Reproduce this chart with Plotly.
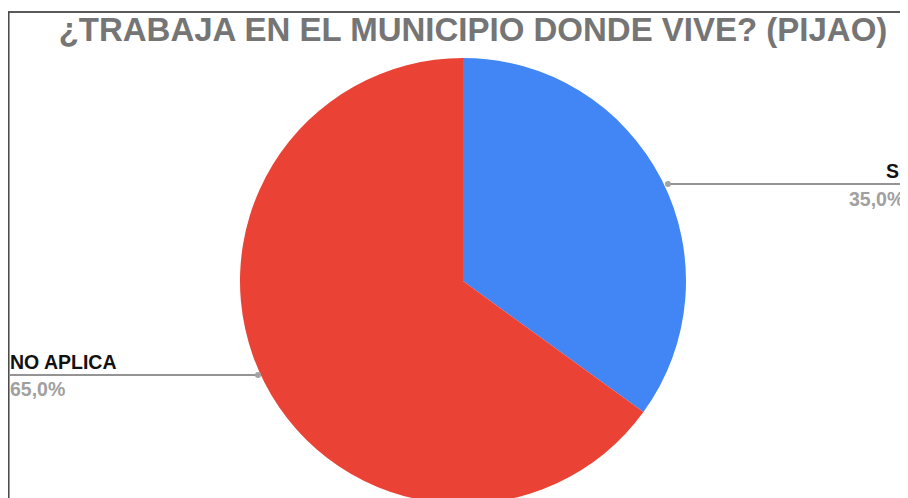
import plotly.graph_objects as go

# data
labels = ['SI', 'NO APLICA']
values = [35.0, 65.0]
colors = ['#4285F4', '#EA4335']

W, H = 900, 498
OFF = 8  # the page body margin shifts the figure by 8px


def px_x(x):
    return (x - OFF) / W


def px_y(y):
    return 1 - (y - OFF) / H


# pie centre and radius in screen pixels
cx, cy, r = 463, 281, 223

fig = go.Figure()
fig.add_trace(go.Pie(
    labels=labels,
    values=values,
    sort=False,
    direction='clockwise',
    rotation=0,
    marker=dict(colors=colors, line=dict(width=0)),
    textinfo='none',
    hoverinfo='label+percent',
    showlegend=False,
    domain=dict(x=[px_x(cx - 300), px_x(cx + 300)], y=[px_y(cy + r), px_y(cy - r)]),
))

pct = [('%.1f%%' % (v / sum(values) * 100)).replace('.', ',') for v in values]

# leader lines and dots: (dot x, dot y, line end x)
leaders = [(668, 184, 910), (258, 375, 10)]
for dx, dy, ex in leaders:
    fig.add_shape(type='line', xref='paper', yref='paper',
                  x0=px_x(dx), y0=px_y(dy), x1=px_x(ex), y1=px_y(dy),
                  line=dict(color='#707070', width=1.4))
    fig.add_shape(type='circle', xref='paper', yref='paper',
                  x0=px_x(dx - 3), y0=px_y(dy - 3), x1=px_x(dx + 3), y1=px_y(dy + 3),
                  fillcolor='#a3a3a3', line=dict(width=0))

lab_font = dict(family='Liberation Sans, Arial', size=19.5, color='#111111')
pct_font = dict(family='Liberation Sans, Arial', size=19.5, color='#a0a0a0')

fig.add_annotation(x=px_x(906), y=px_y(184), xref='paper', yref='paper',
                   text='<b>' + labels[0] + '</b>', showarrow=False,
                   xanchor='right', yanchor='bottom', font=lab_font)
fig.add_annotation(x=px_x(906), y=px_y(186), xref='paper', yref='paper',
                   text='<b>' + pct[0] + '</b>', showarrow=False,
                   xanchor='right', yanchor='top', font=pct_font)
fig.add_annotation(x=px_x(8), y=px_y(375), xref='paper', yref='paper',
                   text='<b>' + labels[1] + '</b>', showarrow=False,
                   xanchor='left', yanchor='bottom', font=lab_font)
fig.add_annotation(x=px_x(8), y=px_y(376), xref='paper', yref='paper',
                   text='<b>' + pct[1] + '</b>', showarrow=False,
                   xanchor='left', yanchor='top', font=pct_font)

# frame lines from the cropped screenshot
fig.add_shape(type='line', xref='paper', yref='paper',
              x0=px_x(8), y0=px_y(12), x1=1, y1=px_y(12),
              line=dict(color='#222222', width=1.5))
fig.add_shape(type='line', xref='paper', yref='paper',
              x0=px_x(8.8), y0=px_y(12), x1=px_x(8.8), y1=0,
              line=dict(color='#444444', width=1.5))

fig.update_layout(
    width=W, height=H,
    margin=dict(l=0, r=0, t=0, b=0),
    paper_bgcolor='white',
    plot_bgcolor='white',
    title=dict(text='<b>¿TRABAJA EN EL MUNICIPIO DONDE VIVE? (PIJAO)</b>',
               x=px_x(473), xanchor='center', y=px_y(29), yanchor='middle',
               font=dict(family='Liberation Sans, Arial', size=33, color='#757575')),
)

fig.write_html('out.html')
